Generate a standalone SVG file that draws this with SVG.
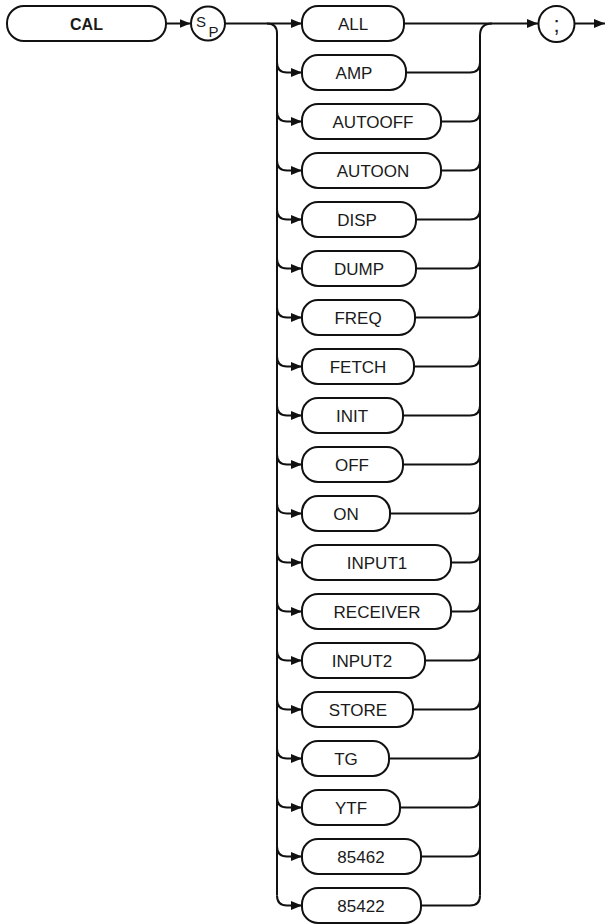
<svg xmlns="http://www.w3.org/2000/svg" width="606" height="924" viewBox="0 0 606 924">
<defs>
<marker id="ah" markerWidth="11" markerHeight="9" refX="11" refY="4.5" orient="auto" markerUnits="userSpaceOnUse"><path d="M0,0 L11,4.5 L0,9 Z" fill="#111"/></marker>
<style>
.box{fill:#fff;stroke:#111;stroke-width:2}
.lbl{font-family:"Liberation Sans",Arial,sans-serif;font-size:17px;fill:#1a1a1a;text-anchor:middle}
.cn path{fill:none;stroke:#111;stroke-width:2}
.arr{marker-end:url(#ah)}
</style>
</defs>
<rect width="606" height="924" fill="#fff"/>
<g id="cal"><rect class="box" x="7" y="6" width="159" height="35" rx="17"/><text class="lbl" x="86.5" y="30" style="font-weight:bold;font-size:16px">CAL</text></g>
<g id="sp"><circle class="box" cx="208" cy="23.5" r="17"/><text class="lbl" x="201" y="26.5" style="font-size:15px">S</text><text class="lbl" x="213.5" y="37" style="font-size:15px">P</text></g>
<g id="semi"><circle class="box" cx="556.5" cy="24" r="18"/><text class="lbl" x="556.5" y="32" style="font-size:22px">;</text></g>
<g class="cn" id="connectors">
<path class="arr" d="M166 23.5 H190.5"/>
<path class="arr" d="M225 23.5 H302"/>
<path class="arr" d="M404 23.5 H538"/>
<path class="arr" d="M575 23.5 H605"/>
<path d="M267 23.5 Q277 23.5 277 33.5 V895.5"/>
<path d="M480 895.5 V35.5 Q480 23.5 492 23.5"/>
<path class="arr" d="M277 62.5 Q277 72.5 287 72.5 H302"/>
<path class="arr" d="M277 111.5 Q277 121.5 287 121.5 H302"/>
<path class="arr" d="M277 160.5 Q277 170.5 287 170.5 H302"/>
<path class="arr" d="M277 209.5 Q277 219.5 287 219.5 H302"/>
<path class="arr" d="M277 258.5 Q277 268.5 287 268.5 H302"/>
<path class="arr" d="M277 307.5 Q277 317.5 287 317.5 H302"/>
<path class="arr" d="M277 356.5 Q277 366.5 287 366.5 H302"/>
<path class="arr" d="M277 405.5 Q277 415.5 287 415.5 H302"/>
<path class="arr" d="M277 454.5 Q277 464.5 287 464.5 H302"/>
<path class="arr" d="M277 503.5 Q277 513.5 287 513.5 H302"/>
<path class="arr" d="M277 552.5 Q277 562.5 287 562.5 H302"/>
<path class="arr" d="M277 601.5 Q277 611.5 287 611.5 H302"/>
<path class="arr" d="M277 650.5 Q277 660.5 287 660.5 H302"/>
<path class="arr" d="M277 699.5 Q277 709.5 287 709.5 H302"/>
<path class="arr" d="M277 748.5 Q277 758.5 287 758.5 H302"/>
<path class="arr" d="M277 797.5 Q277 807.5 287 807.5 H302"/>
<path class="arr" d="M277 846.5 Q277 856.5 287 856.5 H302"/>
<path class="arr" d="M277 895.5 Q277 905.5 287 905.5 H302"/>
<path d="M406 72.5 H470 Q480 72.5 480 62.5"/>
<path d="M441 121.5 H470 Q480 121.5 480 111.5"/>
<path d="M441 170.5 H470 Q480 170.5 480 160.5"/>
<path d="M416 219.5 H470 Q480 219.5 480 209.5"/>
<path d="M416 268.5 H470 Q480 268.5 480 258.5"/>
<path d="M415 317.5 H470 Q480 317.5 480 307.5"/>
<path d="M414 366.5 H470 Q480 366.5 480 356.5"/>
<path d="M403 415.5 H470 Q480 415.5 480 405.5"/>
<path d="M403 464.5 H470 Q480 464.5 480 454.5"/>
<path d="M390 513.5 H470 Q480 513.5 480 503.5"/>
<path d="M451 562.5 H470 Q480 562.5 480 552.5"/>
<path d="M451 611.5 H470 Q480 611.5 480 601.5"/>
<path d="M425 660.5 H470 Q480 660.5 480 650.5"/>
<path d="M413 709.5 H470 Q480 709.5 480 699.5"/>
<path d="M389 758.5 H470 Q480 758.5 480 748.5"/>
<path d="M400 807.5 H470 Q480 807.5 480 797.5"/>
<path d="M421 856.5 H470 Q480 856.5 480 846.5"/>
<path d="M421 905.5 H470 Q480 905.5 480 895.5"/>
</g>
<g id="n-all"><rect class="box" x="302" y="6" width="102" height="35" rx="16"/><text class="lbl" x="353" y="29.5">ALL</text></g>
<g id="n-amp"><rect class="box" x="302" y="55" width="104" height="35" rx="16"/><text class="lbl" x="354" y="78.5">AMP</text></g>
<g id="n-autooff"><rect class="box" x="302" y="104" width="139" height="35" rx="16"/><text class="lbl" x="373" y="127.5">AUTOOFF</text></g>
<g id="n-autoon"><rect class="box" x="302" y="153" width="139" height="35" rx="16"/><text class="lbl" x="373" y="176.5">AUTOON</text></g>
<g id="n-disp"><rect class="box" x="302" y="202" width="114" height="35" rx="16"/><text class="lbl" x="357" y="225.5">DISP</text></g>
<g id="n-dump"><rect class="box" x="302" y="251" width="114" height="35" rx="16"/><text class="lbl" x="359" y="274.5">DUMP</text></g>
<g id="n-freq"><rect class="box" x="302" y="300" width="113" height="35" rx="16"/><text class="lbl" x="358" y="323.5">FREQ</text></g>
<g id="n-fetch"><rect class="box" x="302" y="349" width="112" height="35" rx="16"/><text class="lbl" x="358" y="372.5">FETCH</text></g>
<g id="n-init"><rect class="box" x="302" y="398" width="101" height="35" rx="16"/><text class="lbl" x="352" y="421.5">INIT</text></g>
<g id="n-off"><rect class="box" x="302" y="447" width="101" height="35" rx="16"/><text class="lbl" x="352" y="470.5">OFF</text></g>
<g id="n-on"><rect class="box" x="302" y="496" width="88" height="35" rx="16"/><text class="lbl" x="346" y="519.5">ON</text></g>
<g id="n-input1"><rect class="box" x="302" y="545" width="149" height="35" rx="16"/><text class="lbl" x="377" y="568.5">INPUT1</text></g>
<g id="n-receiver"><rect class="box" x="302" y="594" width="149" height="35" rx="16"/><text class="lbl" x="377" y="617.5">RECEIVER</text></g>
<g id="n-input2"><rect class="box" x="302" y="643" width="123" height="35" rx="16"/><text class="lbl" x="362" y="666.5">INPUT2</text></g>
<g id="n-store"><rect class="box" x="302" y="692" width="111" height="35" rx="16"/><text class="lbl" x="358" y="715.5">STORE</text></g>
<g id="n-tg"><rect class="box" x="302" y="741" width="87" height="35" rx="16"/><text class="lbl" x="346" y="764.5">TG</text></g>
<g id="n-ytf"><rect class="box" x="302" y="790" width="98" height="35" rx="16"/><text class="lbl" x="351" y="813.5">YTF</text></g>
<g id="n-85462"><rect class="box" x="302" y="839" width="119" height="35" rx="16"/><text class="lbl" x="361" y="862.5">85462</text></g>
<g id="n-85422"><rect class="box" x="302" y="888" width="119" height="35" rx="16"/><text class="lbl" x="361" y="911.5">85422</text></g>
</svg>
